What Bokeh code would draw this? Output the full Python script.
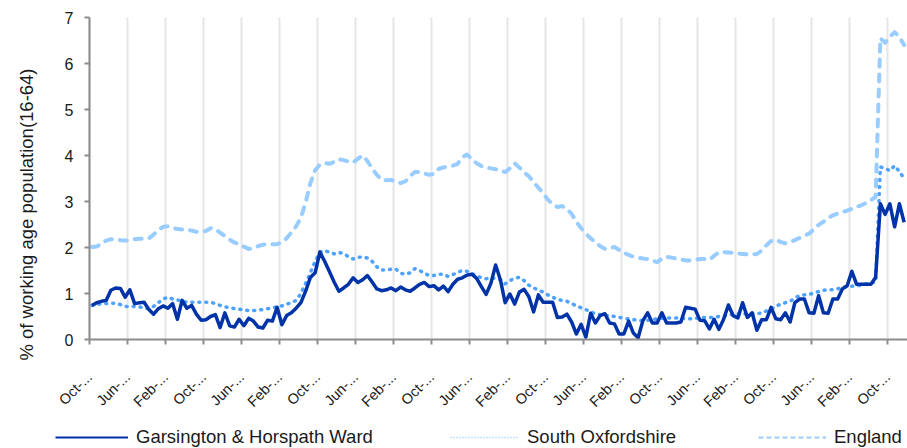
import math
import numpy as np
from bokeh.plotting import figure
from bokeh.models import Range1d, FixedTicker, Legend, LegendItem
from bokeh.core.properties import value
from bokeh.embed import file_html
from bokeh.resources import INLINE

# ---------------- data (monthly, % of working age population 16-64) ----------------
tick_labels = ["Oct-...", "Jun-...", "Feb-...", "Oct-...", "Jun-...", "Feb-...",
               "Oct-...", "Jun-...", "Feb-...", "Oct-...", "Jun-...", "Feb-...",
               "Oct-...", "Jun-...", "Feb-...", "Oct-...", "Jun-...", "Feb-...",
               "Oct-...", "Jun-...", "Feb-...", "Oct-..."]

series_names = ["Garsington & Horspath Ward", "South Oxfordshire", "England"]
y_title = "% of working age population(16-64)"

ward = [
    0.74, 0.80, 0.83, 0.85, 1.07, 1.12, 1.11, 0.92, 1.08, 0.78,
    0.80, 0.81, 0.65, 0.55, 0.67, 0.73, 0.68, 0.78, 0.44, 0.85,
    0.68, 0.74, 0.55, 0.42, 0.43, 0.50, 0.54, 0.26, 0.58, 0.30,
    0.27, 0.44, 0.30, 0.46, 0.40, 0.27, 0.25, 0.42, 0.40, 0.70,
    0.32, 0.52, 0.58, 0.68, 0.80, 1.05, 1.35, 1.45, 1.90, 1.70,
    1.48, 1.25, 1.05, 1.12, 1.20, 1.34, 1.24, 1.30, 1.39, 1.25,
    1.10, 1.06, 1.08, 1.12, 1.06, 1.14, 1.08, 1.05, 1.12, 1.20,
    1.24, 1.15, 1.17, 1.08, 1.16, 1.04, 1.20, 1.31, 1.34, 1.40,
    1.42, 1.33, 1.15, 0.98, 1.22, 1.62, 1.30, 0.80, 0.99, 0.77,
    1.03, 1.09, 0.93, 0.60, 0.97, 0.81, 0.81, 0.81, 0.48, 0.49,
    0.55, 0.38, 0.12, 0.33, 0.05, 0.57, 0.36, 0.52, 0.56, 0.36,
    0.34, 0.12, 0.12, 0.40, 0.14, 0.04, 0.41, 0.58, 0.36, 0.36,
    0.58, 0.36, 0.36, 0.36, 0.38, 0.70, 0.68, 0.66, 0.42, 0.41,
    0.23, 0.44, 0.22, 0.44, 0.75, 0.52, 0.47, 0.80, 0.48, 0.58,
    0.20, 0.43, 0.43, 0.70, 0.45, 0.43, 0.58, 0.38, 0.80, 0.88,
    0.88, 0.58, 0.57, 0.95, 0.58, 0.57, 0.88, 0.88, 1.10, 1.17,
    1.48, 1.20, 1.20, 1.20, 1.20, 1.35, 2.95, 2.72, 2.95, 2.45,
    2.95, 2.55,
]

south_oxon = [
    0.74, 0.76, 0.78, 0.78, 0.79, 0.79, 0.76, 0.72, 0.72, 0.72,
    0.71, 0.68, 0.67, 0.72, 0.80, 0.88, 0.92, 0.88, 0.86, 0.83,
    0.81, 0.81, 0.81, 0.81, 0.81, 0.81, 0.78, 0.74, 0.71, 0.69,
    0.67, 0.66, 0.64, 0.63, 0.63, 0.64, 0.65, 0.67, 0.69, 0.71,
    0.73, 0.77, 0.80, 0.85, 1.00, 1.22, 1.45, 1.70, 1.90, 1.93,
    1.90, 1.86, 1.89, 1.87, 1.80, 1.75, 1.78, 1.80, 1.77, 1.70,
    1.58, 1.51, 1.51, 1.53, 1.53, 1.44, 1.42, 1.45, 1.54, 1.50,
    1.44, 1.39, 1.39, 1.42, 1.42, 1.37, 1.41, 1.46, 1.50, 1.48,
    1.43, 1.39, 1.34, 1.32, 1.34, 1.33, 1.30, 1.21, 1.28, 1.33,
    1.35, 1.28, 1.18, 1.12, 1.08, 1.03, 0.97, 0.92, 0.87, 0.85,
    0.83, 0.78, 0.73, 0.69, 0.65, 0.60, 0.56, 0.54, 0.52, 0.52,
    0.50, 0.48, 0.46, 0.45, 0.43, 0.42, 0.41, 0.42, 0.43, 0.45,
    0.46, 0.47, 0.47, 0.47, 0.46, 0.45, 0.45, 0.46, 0.47, 0.48,
    0.48, 0.48, 0.50, 0.51, 0.53, 0.55, 0.56, 0.54, 0.57, 0.56,
    0.56, 0.58, 0.62, 0.66, 0.72, 0.77, 0.80, 0.83, 0.90, 0.96,
    0.97, 0.98, 1.01, 1.04, 1.07, 1.08, 1.08, 1.10, 1.13, 1.15,
    1.16, 1.17, 1.18, 1.21, 1.23, 1.25, 3.75, 3.72, 3.67, 3.78,
    3.65, 3.50,
]

england = [
    2.01, 2.02, 2.08, 2.15, 2.18, 2.18, 2.16, 2.15, 2.16, 2.18,
    2.19, 2.19, 2.20, 2.28, 2.38, 2.45, 2.46, 2.43, 2.40, 2.39,
    2.39, 2.37, 2.34, 2.33, 2.36, 2.42, 2.40, 2.32, 2.25, 2.17,
    2.11, 2.07, 2.02, 1.97, 1.98, 2.03, 2.06, 2.07, 2.07, 2.07,
    2.12, 2.20, 2.33, 2.46, 2.65, 2.98, 3.40, 3.68, 3.80, 3.84,
    3.82, 3.86, 3.92, 3.90, 3.87, 3.85, 3.93, 4.00, 3.88, 3.72,
    3.58, 3.47, 3.46, 3.47, 3.43, 3.40, 3.44, 3.55, 3.64, 3.64,
    3.61, 3.58, 3.60, 3.71, 3.74, 3.76, 3.78, 3.82, 3.96, 4.02,
    3.92, 3.83, 3.77, 3.74, 3.72, 3.70, 3.67, 3.64, 3.72, 3.83,
    3.74, 3.63, 3.55, 3.42, 3.30, 3.18, 3.04, 2.94, 2.88, 2.90,
    2.84, 2.73, 2.56, 2.42, 2.30, 2.20, 2.12, 2.03, 1.97, 1.99,
    2.01, 1.95, 1.88, 1.84, 1.80, 1.78, 1.76, 1.75, 1.72, 1.68,
    1.76, 1.80, 1.78, 1.76, 1.74, 1.72, 1.72, 1.73, 1.75, 1.75,
    1.73, 1.82, 1.90, 1.90, 1.89, 1.88, 1.87, 1.86, 1.85, 1.85,
    1.86, 1.93, 2.05, 2.14, 2.17, 2.12, 2.09, 2.12, 2.16, 2.21,
    2.26, 2.30, 2.40, 2.49, 2.56, 2.64, 2.70, 2.74, 2.77, 2.80,
    2.84, 2.88, 2.92, 2.97, 3.03, 3.10, 6.55, 6.45, 6.58, 6.68,
    6.58, 6.40,
]

y_ticks = [0, 1, 2, 3, 4, 5, 6, 7]

# ---------------- layout (pixels) ----------------
W, H = 907, 448
AX_LEFT, AX_TOP, AX_ZERO = 89, 17, 339       # y-axis line x, value-7 y, value-0 y
PX_X = 4.75                                  # px per month
PX_Y = (AX_ZERO - AX_TOP) / y_ticks[-1]      # px per unit

x_start = -AX_LEFT / PX_X
x_end = (W - AX_LEFT) / PX_X
y_end = y_ticks[-1] + AX_TOP / PX_Y
y_start = -(H - AX_ZERO) / PX_Y

FONT = "Liberation Sans"
C_WARD = "#0033A8"
C_SO = "#4DA3FF"
C_ENG = "#99CCFF"
AXIS_C = "#8c8c8c"
GRID_C = "#e6e6e6"
TEXT_C = "#1a1a1a"

months = np.arange(len(ward)) + 0.5                   # category centres
tick_pos = [8 * k for k in range(len(tick_labels))]   # category boundaries
y_top = y_ticks[-1]

p = figure(width=W, height=H, output_backend="svg", toolbar_location=None,
           x_range=Range1d(x_start, x_end), y_range=Range1d(y_start, y_end),
           min_border=0)
p.outline_line_color = None
p.background_fill_color = "white"
p.border_fill_color = "white"
p.xgrid.visible = False
p.ygrid.visible = False

# vertical grid lines at the category ticks, over the value range only
p.segment(x0=tick_pos, y0=[0] * len(tick_pos), x1=tick_pos, y1=[y_top] * len(tick_pos),
          line_color=GRID_C, line_width=2)

# series
p.line(months, england, line_color=C_ENG, line_width=4, line_dash="7 8",
       line_cap="round", line_join="round")
p.line(months, south_oxon, line_color=C_SO, line_width=3.5, line_dash="1 6",
       line_cap="round", line_join="round")
p.line(months, ward, line_color=C_WARD, line_width=3.5, line_join="round")

# category (x) axis pinned at y = 0
xa = p.xaxis[0]
xa.fixed_location = 0
xa.bounds = (0, x_end)
xa.ticker = FixedTicker(ticks=tick_pos)
xa.major_label_overrides = {t: lab for t, lab in zip(tick_pos, tick_labels)}
xa.major_label_orientation = math.pi / 4
xa.major_label_text_font_size = "14.5px"
xa.major_label_standoff = 30

# value (y) axis pinned at x = 0
ya = p.yaxis[0]
ya.fixed_location = 0
ya.bounds = (0, y_top)
ya.ticker = FixedTicker(ticks=y_ticks)
ya.major_label_text_font_size = "16px"
ya.major_label_standoff = 11

for ax in (xa, ya):
    ax.axis_line_color = AXIS_C
    ax.axis_line_width = 2
    ax.major_tick_line_color = AXIS_C
    ax.major_tick_line_width = 2
    ax.major_tick_out = 5
    ax.major_tick_in = 0
    ax.minor_tick_line_color = None
    ax.major_label_text_font = FONT
    ax.major_label_text_color = TEXT_C

# y-axis title (vertical text)
p.text(x=[(25.5 - AX_LEFT) / PX_X], y=[(AX_ZERO - 214) / PX_Y], text=[y_title],
       angle=math.pi / 2, text_align="center", text_baseline="middle",
       text_font=value(FONT), text_font_size=value("18.5px"), text_color=TEXT_C)

# legend-only renderers (thin samples, no visible data)
nan_y = [float("nan")]
leg_ward = p.line(x=months[:1], y=nan_y, line_color=C_WARD, line_width=2)
leg_so = p.line(x=months[:1], y=nan_y, line_color="#8EC5FF", line_width=1.5,
                line_dash="1 2")
leg_eng = p.line(x=months[:1], y=nan_y, line_color=C_ENG, line_width=2,
                 line_dash="5 3")

for name, rend, xoff, gw in [(series_names[0], leg_ward, 55, 73),
                             (series_names[1], leg_so, 450, 69),
                             (series_names[2], leg_eng, 758, 68)]:
    lg = Legend(items=[LegendItem(label=name, renderers=[rend])],
                location=(xoff, 0), orientation="horizontal",
                glyph_width=gw, glyph_height=20, label_height=20,
                label_standoff=8, padding=0, margin=0, spacing=0,
                border_line_color=None, background_fill_alpha=0,
                label_text_font=FONT, label_text_font_size="18.5px",
                label_text_color=TEXT_C)
    p.add_layout(lg)

open("out.html", "w").write(file_html(p, INLINE))
